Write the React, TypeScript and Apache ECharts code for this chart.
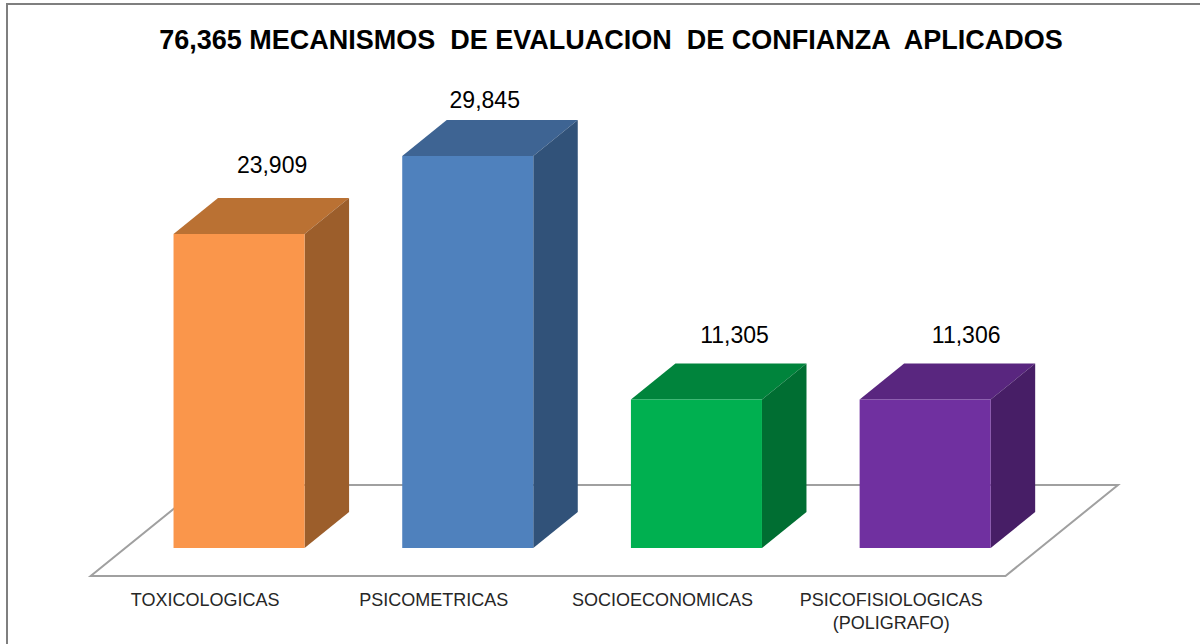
import React, { useEffect, useRef } from "react";
import * as echarts from "echarts";

const titleText = "76,365 MECANISMOS  DE EVALUACION  DE CONFIANZA  APLICADOS";
const categories = ["TOXICOLOGICAS", "PSICOMETRICAS", "SOCIOECONOMICAS", "PSICOFISIOLOGICAS\n(POLIGRAFO)"];
const values = [23909, 29845, 11305, 11306];
const frontColors = ["#FA964B", "#4F81BD", "#00B050", "#7030A0"];
const topColors = ["#BA7133", "#3E6493", "#00843C", "#59267F"];
const sideColors = ["#9C5E2B", "#315279", "#006E32", "#471E66"];
const labelShiftX = [33, 17, 38, 41];
const labelShiftY = [-33, -20, -29, -29];

const DEPTH_X = 44.5;
const DEPTH_Y = 36;
const BAR_RATIO = 0.573;
const FONT = "'Liberation Sans', Arial, sans-serif";

function renderBar(params: any, api: any) {
  const i = params.dataIndex;
  const base = api.coord([api.value(0), 0]);
  const top = api.coord([api.value(0), api.value(1)]);
  const w = api.size([1, 0])[0] * BAR_RATIO;
  const l = base[0] - w / 2;
  const r = base[0] + w / 2;
  const yt = top[1];
  const yb = base[1];
  return {
    type: "group",
    children: [
      {
        type: "polygon",
        shape: { points: [[l, yt], [r, yt], [r + DEPTH_X, yt - DEPTH_Y], [l + DEPTH_X, yt - DEPTH_Y]] },
        style: { fill: topColors[i] },
      },
      {
        type: "polygon",
        shape: { points: [[r, yt], [r + DEPTH_X, yt - DEPTH_Y], [r + DEPTH_X, yb - DEPTH_Y], [r, yb]] },
        style: { fill: sideColors[i] },
      },
      {
        type: "rect",
        shape: { x: l, y: yt, width: w, height: yb - yt },
        style: { fill: frontColors[i] },
      },
      {
        type: "text",
        x: base[0] + labelShiftX[i],
        y: yt - DEPTH_Y + labelShiftY[i],
        style: {
          text: values[i].toLocaleString("en-US"),
          fill: "#000000",
          font: `23px ${FONT}`,
          align: "center",
          verticalAlign: "middle",
        },
      },
    ],
  };
}

function renderFloor(params: any) {
  const cs = params.coordSys;
  const y = cs.y + cs.height;
  const x0 = cs.x;
  const x1 = cs.x + cs.width;
  const dx = 112.5;
  const dy = 91;
  return {
    type: "polygon",
    shape: { points: [[x0, y], [x1, y], [x1 + dx, y - dy], [x0 + dx, y - dy]] },
    style: { fill: "#FFFFFF", stroke: "#A0A0A0", lineWidth: 2 },
  };
}

export default function App() {
  const ref = useRef<HTMLDivElement>(null);
  useEffect(() => {
    document.body.style.margin = "0";
    const chart = echarts.init(ref.current!, undefined, { renderer: "svg" });
    chart.setOption({
      animation: false,
      backgroundColor: "#FFFFFF",
      title: {
        text: titleText,
        left: 606,
        top: 21,
        textAlign: "center",
        textStyle: { fontFamily: FONT, fontWeight: "bold", fontSize: 27, color: "#000000" },
      },
      graphic: [
        {
          type: "polyline",
          shape: { points: [[7, 644], [7, 4], [1200, 4]] },
          style: { fill: "none", stroke: "#7F7F7F", lineWidth: 2 },
        },
      ],
      grid: [
        { left: 124.7, top: 154, width: 914.8, height: 394 },
        { left: 90.7, top: 200, width: 914.8, height: 376 },
      ],
      xAxis: [
        { type: "category", gridIndex: 0, data: categories, show: false },
        {
          type: "category",
          gridIndex: 1,
          data: categories,
          axisLine: { show: false },
          axisTick: { show: false },
          axisLabel: {
            interval: 0,
            margin: 12,
            fontFamily: FONT,
            fontSize: 18,
            lineHeight: 23,
            color: "#262626",
          },
        },
      ],
      yAxis: [
        { type: "value", gridIndex: 0, min: 0, max: 30000, show: false },
        { type: "value", gridIndex: 1, min: 0, max: 1, show: false },
      ],
      series: [
        {
          type: "custom",
          xAxisIndex: 1,
          yAxisIndex: 1,
          z: 1,
          silent: true,
          renderItem: renderFloor,
          data: [[0, 0]],
        },
        {
          type: "custom",
          xAxisIndex: 0,
          yAxisIndex: 0,
          z: 2,
          renderItem: renderBar,
          encode: { x: 0, y: 1 },
          clip: false,
          data: values.map((v, i) => [i, v]),
        },
      ],
    });
    return () => chart.dispose();
  }, []);
  return <div ref={ref} style={{ width: 1200, height: 644 }} />;
}
